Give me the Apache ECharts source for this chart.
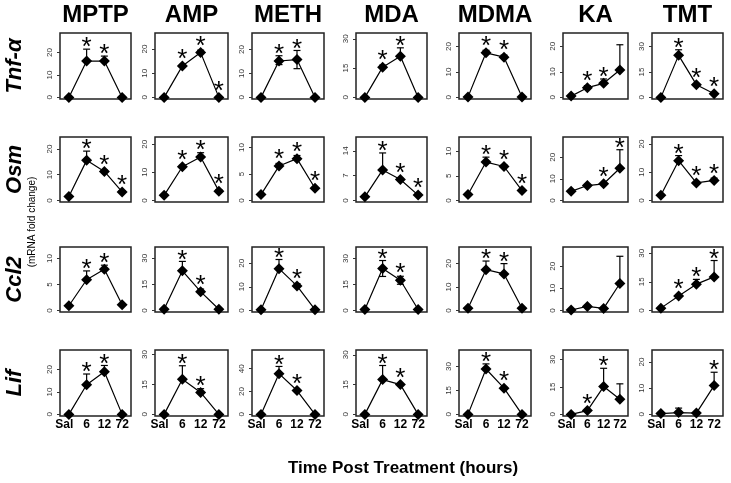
<!DOCTYPE html>
<html><head><meta charset="utf-8">
<script src="https://cdn.jsdelivr.net/npm/echarts@6.0.0/dist/echarts.min.js"></script>
<style>html,body{margin:0;padding:0;background:#fff}#c{width:731px;height:483px}</style>
</head><body><div id="c"></div>
<script>
// ---------------- data ----------------
const drugs = ['MPTP', 'AMP', 'METH', 'MDA', 'MDMA', 'KA', 'TMT'];
const genes = ['Tnf-α', 'Osm', 'Ccl2', 'Lif'];
const timeLabels = ['Sal', '6', '12', '72'];
const yAxisTitle = '(mRNA fold change)';
const xAxisTitle = 'Time Post Treatment (hours)';

// Tnf-α
const tnfMean = [[0,16.2,16.2,0],[0,13,18.5,0],[0,15.2,15.8,0],[0,15.5,21.1,0],[0.2,17.5,15.8,0.2],[0.5,3.8,5.5,10.7],[0,24.8,7.5,2.1]];
const tnfUp   = [[0,5.3,2.2,0],[0,0.6,1,0],[0,2.2,3.8,0],[0,1,4.3,0],[0,1,0.8,0],[0,0.8,1.7,9.9],[0,3.3,0.5,0.5]];
const tnfDown = [[0,0,0,0],[0,0,0,0],[0,1.5,3.8,0],[0,0,0,0],[0,0,0,0],[0,0,0,0],[0,0,0,0]];
const tnfSig  = [[0,1,1,0],[0,1,1,1],[0,1,1,0],[0,1,1,0],[0,1,1,0],[0,1,1,0],[0,1,1,1]];
const tnfTicks = [[0,10,20],[0,10,20],[0,10,20],[0,15,30],[0,10,20],[0,10,20],[0,15,30]];
const tnfYMax = [28.7,26.6,26.9,33,25.3,25.2,38];

// Osm
const osmMean = [[1.5,15.6,11.3,3.3],[1.8,12,15.5,3.3],[1.1,6.5,7.9,2.3],[1,8.6,5.9,1.5],[1.2,7.8,6.9,2],[4.2,6.9,7.7,14.9],[1.8,14.1,6.2,7.1]];
const osmUp   = [[0,3.6,0.5,0.5],[0,0.5,1.5,0.5],[0,0.5,0.6,0],[0,4.8,0.3,0.3],[0,1,0.3,0],[0,0.5,0.5,8.6],[0,1.8,0.5,0.8]];
const osmDown = [[0,0,0,0],[0,0,0,0],[0,0,0,0],[0,0,0,0],[0,0,0,0],[0,0,0,0],[0,0,0,0]];
const osmSig  = [[0,1,1,1],[0,1,1,1],[0,1,1,1],[0,1,1,1],[0,1,1,1],[0,0,1,1],[0,1,1,1]];
const osmTicks = [[0,10,20],[0,10,20],[0,5,10],[0,7,14],[0,5,10],[0,10,20],[0,10,20]];
const osmYMax = [24.7,22.6,12,17.9,12.9,29.4,22.5];

// Ccl2
const cclMean = [[0.9,5.9,7.9,1.1],[0.7,22.8,10.8,0.7],[0.3,17.7,10.4,0.3],[0.5,24.2,17.4,0.5],[0.9,17.4,15.6,0.9],[0.2,1.8,0.9,12.2],[1.2,7.6,13.8,17.6]];
const cclUp   = [[0,1.7,0.8,0],[0,5.4,1.5,0],[0,3.9,1,0],[0,4.6,2.3,0],[0,3.7,4.4,0],[0,0.5,0,12.3],[0,0.5,2.5,8.6]];
const cclDown = [[0,0,0,0],[0,0,0,0],[0,0,0,0],[0,4.6,2.3,0],[0,0,0,0],[0,0,0,0],[0,0,0,0]];
const cclSig  = [[0,1,1,0],[0,1,1,0],[0,1,1,0],[0,1,1,0],[0,1,1,0],[0,0,0,0],[0,1,1,1]];
const cclTicks = [[0,5,10],[0,15,30],[0,10,20],[0,15,30],[0,10,20],[0,10,20],[0,15,30]];
const cclYMax = [12.2,36.5,26.9,36.6,27.1,28.7,33.3];

// Lif
const lifMean = [[0,13.2,19,0],[0,17.6,11,0],[0,35.7,20.9,0],[0,17.5,15,0],[0,28.4,16.4,0],[0,2.1,15.2,8.3],[0.3,0.7,0.5,11]];
const lifUp   = [[0,4.8,2.8,0],[0,6.8,1.9,0],[0,6.3,0.5,0],[0,7.1,0,0],[0,3.2,0.5,0],[0,0.3,10,8.4],[0,1.7,0,5.1]];
const lifDown = [[0,0,0,0],[0,0,0,0],[0,0,0,0],[0,0,0,0],[0,0,0,0],[0,0,0,0],[0,0,0,0]];
const lifSig  = [[0,1,1,0],[0,1,1,0],[0,1,1,0],[0,1,1,0],[0,1,1,0],[0,1,1,0],[0,0,0,1]];
const lifTicks = [[0,10,20],[0,15,30],[0,20,40],[0,15,30],[0,15,30],[0,15,30],[0,10,20]];
const lifYMax = [28.7,32.3,56.4,32.4,40.3,35.2,24.6];

// ---------------- layout ----------------
const FONT = "'Liberation Sans', Arial, Helvetica, sans-serif";
const colLeft = [60, 155, 252, 356, 459, 563, 652];
const colWidth = [71, 73, 72, 71, 72, 65, 71];
const rowTop = [33, 137, 247, 350];
const rowHeight = [66, 65, 65, 66];

const geneData = [
  {mean: tnfMean, up: tnfUp, down: tnfDown, sig: tnfSig, ticks: tnfTicks, ymax: tnfYMax},
  {mean: osmMean, up: osmUp, down: osmDown, sig: osmSig, ticks: osmTicks, ymax: osmYMax},
  {mean: cclMean, up: cclUp, down: cclDown, sig: cclSig, ticks: cclTicks, ymax: cclYMax},
  {mean: lifMean, up: lifUp, down: lifDown, sig: lifSig, ticks: lifTicks, ymax: lifYMax}
];

function errRender(params, api) {
  const x = api.value(0), m = api.value(1), u = api.value(2), dn = api.value(3);
  const children = [];
  const cap = 3.5;
  const st = {stroke: '#000', lineWidth: 1.2};
  const pM = api.coord([x, m]);
  if (u > 0) {
    const p = api.coord([x, m + u]);
    children.push({type: 'line', shape: {x1: pM[0], y1: pM[1], x2: p[0], y2: p[1]}, style: st});
    children.push({type: 'line', shape: {x1: p[0] - cap, y1: p[1], x2: p[0] + cap, y2: p[1]}, style: st});
  }
  if (dn > 0) {
    const p = api.coord([x, m - dn]);
    children.push({type: 'line', shape: {x1: pM[0], y1: pM[1], x2: p[0], y2: p[1]}, style: st});
    children.push({type: 'line', shape: {x1: p[0] - cap, y1: p[1], x2: p[0] + cap, y2: p[1]}, style: st});
  }
  return {type: 'group', children: children};
}

function starRender(params, api) {
  if (!api.value(4)) return {type: 'group', children: []};
  const x = api.value(0), m = api.value(1), u = api.value(2);
  const pM = api.coord([x, m]);
  const pU = api.coord([x, m + u]);
  const top = Math.min(pU[1], pM[1] - 5);
  return {
    type: 'text', x: pM[0], y: top - 1,
    style: {text: '*', font: '26px ' + FONT, fill: '#000',
      align: 'center', verticalAlign: 'middle', textAlign: 'center', textVerticalAlign: 'middle'}
  };
}

const grid = [], xAxis = [], yAxis = [], series = [];
geneData.forEach((g, r) => {
  drugs.forEach((d, c) => {
    const i = grid.length;
    grid.push({left: colLeft[c], top: rowTop[r], width: colWidth[c], height: rowHeight[r],
      show: true, borderColor: '#222', borderWidth: 1.5, backgroundColor: 'transparent', containLabel: false});
    xAxis.push({type: 'category', gridIndex: i, data: timeLabels, boundaryGap: true,
      axisLine: {show: false}, axisTick: {show: false}, splitLine: {show: false},
      axisLabel: {show: r === 3, interval: 0, fontFamily: FONT, fontWeight: 'bold', fontSize: 12, color: '#000', margin: 3,
        formatter: v => v === 'Sal' ? '{s|' + v + '}' : v,
        rich: {s: {fontFamily: FONT, fontWeight: 'bold', fontSize: 12, color: '#000', padding: [0, 9, 0, 0]}}}});
    const ymax = g.ymax[c];
    yAxis.push({type: 'value', gridIndex: i, min: -0.025 * ymax, max: ymax,
      splitLine: {show: false}, axisLine: {show: false},
      axisTick: {show: true, customValues: g.ticks[c], length: 3, lineStyle: {color: '#333'}},
      axisLabel: {customValues: g.ticks[c], rotate: 90, fontSize: 8, color: '#333', margin: 6, fontFamily: FONT}});
    const rows = timeLabels.map((t, k) => [k, g.mean[c][k], g.up[c][k], g.down[c][k], g.sig[c][k]]);
    series.push({type: 'custom', xAxisIndex: i, yAxisIndex: i, data: rows, renderItem: errRender, z: 2, silent: true, encode: {x: 0, y: 1}});
    series.push({type: 'line', xAxisIndex: i, yAxisIndex: i, data: g.mean[c], symbol: 'diamond', symbolSize: 11,
      showSymbol: true, showAllSymbol: true,
      itemStyle: {color: '#000'}, lineStyle: {color: '#000', width: 1.2}, z: 3, silent: true});
    series.push({type: 'custom', xAxisIndex: i, yAxisIndex: i, data: rows, renderItem: starRender, z: 4, silent: true, encode: {x: 0, y: 1}});
  });
});

const graphic = [];
drugs.forEach((d, c) => {
  graphic.push({type: 'text', x: colLeft[c] + colWidth[c] / 2, y: 15,
    style: {text: d, font: 'bold 24px ' + FONT, fill: '#000', align: 'center', verticalAlign: 'middle', textAlign: 'center', textVerticalAlign: 'middle'}});
});
genes.forEach((gn, r) => {
  graphic.push({type: 'text', x: 15, y: rowTop[r] + rowHeight[r] / 2, rotation: Math.PI / 2,
    style: {text: gn, font: 'italic bold 22px ' + FONT, fill: '#000', align: 'center', verticalAlign: 'middle', textAlign: 'center', textVerticalAlign: 'middle'}});
});
graphic.push({type: 'text', x: 32, y: 222, rotation: Math.PI / 2,
  style: {text: yAxisTitle, font: '10px ' + FONT, fill: '#000', align: 'center', verticalAlign: 'middle', textAlign: 'center', textVerticalAlign: 'middle'}});
graphic.push({type: 'text', x: 403, y: 468,
  style: {text: xAxisTitle, font: 'bold 17px ' + FONT, fill: '#000', align: 'center', verticalAlign: 'middle', textAlign: 'center', textVerticalAlign: 'middle'}});

const chart = echarts.init(document.getElementById('c'), null, {renderer: 'canvas'});
chart.setOption({
  animation: false,
  backgroundColor: '#fff',
  grid: grid, xAxis: xAxis, yAxis: yAxis, series: series, graphic: graphic
});
</script></body></html>
